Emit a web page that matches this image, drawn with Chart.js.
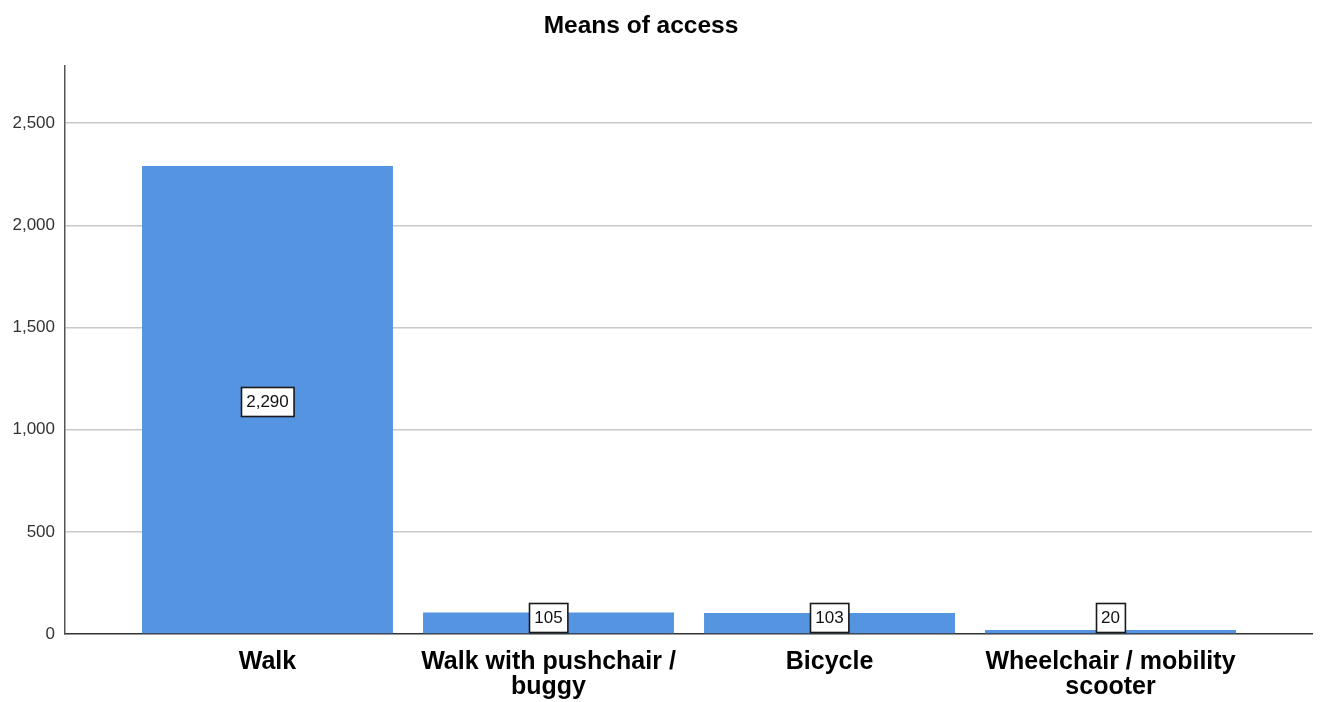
<!DOCTYPE html>
<html>
<head>
<meta charset="utf-8">
<script src="https://cdn.jsdelivr.net/npm/chart.js@4.4.1/dist/chart.umd.min.js"></script>
<style>
html,body{margin:0;padding:0;background:#fff;}
#wrap{width:1320px;height:702px;position:relative;}
</style>
</head>
<body>
<div id="wrap"><canvas id="c"></canvas></div>
<script>
const chartTitle = 'Means of access';
const categories = [['Walk'], ['Walk with pushchair /', 'buggy'], ['Bicycle'], ['Wheelchair / mobility', 'scooter']];
const counts = [2290, 105, 103, 20];
const countLabels = ['2,290', '105', '103', '20'];
const yTicks = [0, 500, 1000, 1500, 2000, 2500];

const positions = categories.map((c, i) => i);
const points = counts.map((v, i) => ({x: positions[i], y: v}));

const titlePlugin = {
  id: 'customTitle',
  afterDraw(chart) {
    const ctx = chart.ctx;
    ctx.save();
    ctx.font = 'bold 24.5px "Liberation Sans", Arial, sans-serif';
    ctx.fillStyle = '#000';
    ctx.textAlign = 'center';
    ctx.textBaseline = 'middle';
    ctx.fillText(chartTitle, 641, 26);
    ctx.restore();
  }
};

const boxLabels = {
  id: 'boxLabels',
  afterDatasetsDraw(chart) {
    const ctx = chart.ctx;
    const meta = chart.getDatasetMeta(0);
    ctx.save();
    ctx.font = '17px "Liberation Sans", Arial, sans-serif';
    ctx.textAlign = 'center';
    ctx.textBaseline = 'middle';
    meta.data.forEach((bar, i) => {
      const txt = countLabels[i];
      const w = ctx.measureText(txt).width + 10;
      const h = 29;
      let cy = (bar.y + bar.base) / 2 + 1.5;
      if (cy + h / 2 > bar.base - 1) cy = bar.base - 1 - h / 2;
      const x0 = Math.round(bar.x - w / 2) + 0.5;
      const y0 = Math.round(cy - h / 2) + 0.5;
      ctx.fillStyle = '#fff';
      ctx.fillRect(x0, y0, w, h);
      ctx.lineWidth = 1.6;
      ctx.strokeStyle = '#1a1a1a';
      ctx.strokeRect(x0, y0, w, h);
      ctx.fillStyle = '#111';
      ctx.fillText(txt, bar.x, cy + 1);
    });
    ctx.restore();
  }
};

new Chart(document.getElementById('c'), {
  type: 'bar',
  data: {
    datasets: [{
      data: points,
      backgroundColor: '#5594e1',
      borderWidth: 0,
      barPercentage: 0.893,
      categoryPercentage: 1.0
    }]
  },
  options: {
    responsive: true,
    maintainAspectRatio: false,
    animation: false,
    layout: {padding: {top: 66, right: 8, left: 0, bottom: 0}},
    plugins: {legend: {display: false}, tooltip: {enabled: false}, title: {display: false}},
    scales: {
      x: {
        type: 'linear',
        min: -0.7206,
        max: 3.717,
        offset: false,
        afterBuildTicks(scale) { scale.ticks = positions.map(v => ({value: v})); },
        afterFit(scale) { scale.height = 68; },
        grid: {display: true, drawOnChartArea: false, drawTicks: false, offset: false},
        border: {display: true, color: '#333', width: 1.5},
        ticks: {
          autoSkip: false,
          maxRotation: 0,
          padding: 16,
          color: '#000',
          font: {family: '"Liberation Sans", Arial, sans-serif', size: 25, weight: 'bold', lineHeight: '25px'},
          callback: (v) => categories[v]
        }
      },
      y: {
        min: 0,
        max: 2780,
        afterBuildTicks(scale) { scale.ticks = yTicks.map(v => ({value: v})); },
        afterFit(scale) { scale.width = 65; },
        grid: {
          drawTicks: false,
          color: (c) => (c.tick && c.tick.value === 0) ? 'rgba(0,0,0,0)' : '#c9c9c9',
          lineWidth: 1.5
        },
        border: {display: true, color: '#555', width: 1.5},
        ticks: {
          padding: 10,
          color: '#333',
          font: {family: '"Liberation Sans", Arial, sans-serif', size: 17},
          callback: (v) => v.toLocaleString('en-US')
        }
      }
    }
  },
  plugins: [titlePlugin, boxLabels]
});
</script>
</body>
</html>
